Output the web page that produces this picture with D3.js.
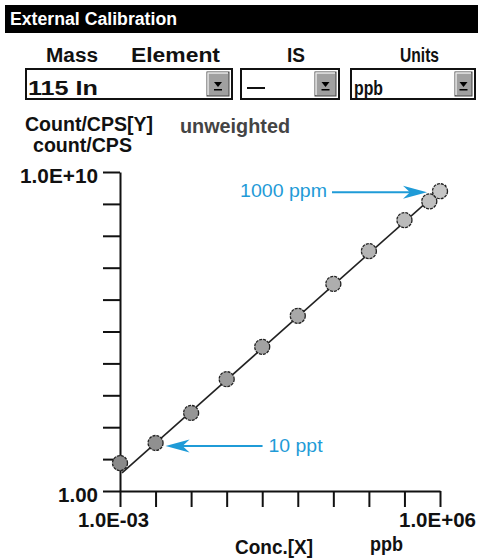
<!DOCTYPE html>
<html><head><meta charset="utf-8">
<script src="https://cdn.jsdelivr.net/npm/d3@7"></script>
<style>
html,body{margin:0;padding:0;background:#fff;}
svg{display:block;}
text{font-family:"Liberation Sans",Arial,sans-serif;font-weight:bold;}
</style></head>
<body><svg id="c" width="478" height="559"></svg>
<script>
// ---- data ----
const concPpb   = [1e-3, 1e-2, 1e-1, 1, 10, 100, 1e3, 1e4, 1e5, 5e5, 1e6];
const countsCps = [7.5, 32, 280, 3200, 3.3e4, 3.1e5, 3.1e6, 3.3e7, 3.1e8, 1.2e9, 2.5e9];
const fitConc   = [1.14e-3, 1.47e6];
const fitCounts = [3.7, 3.9e9];
const xTickValues = [1e-3, 1e-2, 1e-1, 1, 10, 100, 1e3, 1e4, 1e5, 1e6];
const yTickValues = [1, 10, 100, 1e3, 1e4, 1e5, 1e6, 1e7, 1e8, 1e9, 1e10];
const xLabelValues = [1e-3, 1e6];
const xLabelTexts  = ["1.0E-03", "1.0E+06"];
const yLabelValues = [1, 1e10];
const yLabelTexts  = ["1.00", "1.0E+10"];
const headerTitle = "External Calibration";
const fieldLabels = ["Mass", "Element", "IS", "Units"];
const fieldValues = ["115 In", "—", "ppb"];
const annoTexts = ["1000 ppm", "10 ppt"];
const annoIndex = [10, 1];

const svg = d3.select("#c");
const x = d3.scaleLog().domain([1e-3, 1e6]).range([120, 440]);
const y = d3.scaleLog().domain([1, 1e10]).range([491, 172]);
const FS = 20;

function fitText(sel, w){ sel.attr("textLength", w).attr("lengthAdjust", "spacingAndGlyphs"); }

// header bar
svg.append("rect").attr("x",5).attr("y",5).attr("width",473).attr("height",28).attr("fill","#000");
svg.append("text").attr("x",10).attr("y",25).attr("fill","#fff").attr("font-size",18)
  .text(headerTitle).call(fitText,167);

// field labels
const lblPos = [[46,52],[131,89],[287,18],[400,39]];
fieldLabels.forEach((t,i)=>{
  svg.append("text").attr("x",lblPos[i][0]).attr("y",62).attr("font-size",FS).attr("fill","#111")
    .text(t).call(fitText,lblPos[i][1]);
});

// dropdown boxes
const boxes = [[25,233,207,28,70],[240,340,315,247,18],[350,476,455,354,29]];
boxes.forEach((b,i)=>{
  const [x0,x1,bx,tx,tw] = b;
  svg.append("rect").attr("x",x0+1).attr("y",69).attr("width",x1-x0-2).attr("height",30)
    .attr("fill","#fff").attr("stroke","#111").attr("stroke-width",2);
  svg.append("rect").attr("x",bx).attr("y",72).attr("width",x1-bx-4).attr("height",24)
    .attr("fill","#a0a0a0").attr("stroke","#444").attr("stroke-width",1);
  svg.append("path").attr("d",`M${bx+1},95 V73 H${x1-5}`).attr("stroke","#e8e8e8").attr("fill","none").attr("stroke-width",1.5);
  const cx = (bx + x1 - 4)/2;
  svg.append("path").attr("d",`M${cx-4},82 H${cx+4} L${cx},87 Z`).attr("fill","#000");
  svg.append("rect").attr("x",cx-4).attr("y",89).attr("width",8).attr("height",1.5).attr("fill","#000");
  if (fieldValues[i] === "—") {
    svg.append("rect").attr("x",tx).attr("y",87).attr("width",tw).attr("height",2).attr("fill","#111");
  } else {
    svg.append("text").attr("x",tx).attr("y",95).attr("font-size",FS).attr("fill","#111")
      .text(fieldValues[i]).call(fitText,tw);
  }
});

// y title texts
svg.append("text").attr("x",25).attr("y",131).attr("font-size",FS).attr("fill","#111").text("Count/CPS[Y]").call(fitText,128);
svg.append("text").attr("x",33).attr("y",152).attr("font-size",FS).attr("fill","#111").text("count/CPS").call(fitText,99);
svg.append("text").attr("x",180).attr("y",133).attr("font-size",FS).attr("fill","#444").text("unweighted").call(fitText,110);

// axes
const yAxis = d3.axisLeft(y).tickValues(yTickValues).tickSize(17).tickSizeOuter(0)
  .tickFormat(d => { const k = yLabelValues.indexOf(d); return k >= 0 ? yLabelTexts[k] : ""; });
const gy = svg.append("g").attr("transform","translate(120,0)").call(yAxis);
const xAxis = d3.axisBottom(x).tickValues(xTickValues).tickSize(16).tickSizeOuter(0)
  .tickFormat(d => { const k = xLabelValues.indexOf(d); return k >= 0 ? xLabelTexts[k] : ""; });
const gx = svg.append("g").attr("transform","translate(0,491)").call(xAxis);
[gx, gy].forEach(g=>{
  g.select(".domain").attr("stroke","#111").attr("stroke-width",2);
  g.selectAll(".tick line").attr("stroke","#111").attr("stroke-width",2);
  g.selectAll(".tick text").attr("fill","#111").attr("font-size",FS)
    .style("font-family","'Liberation Sans',Arial,sans-serif").style("font-weight","bold");
});
gy.selectAll(".tick text").attr("x",-22).attr("dy","0.5em")
  .each(function(d){ const k = yLabelValues.indexOf(d); if (k>=0) d3.select(this).attr("textLength", k===0?40:78).attr("lengthAdjust","spacingAndGlyphs"); });
gx.selectAll(".tick text").attr("y",22).attr("dy","0.71em")
  .each(function(d){ const k = xLabelValues.indexOf(d);
    if (k>=0) d3.select(this).attr("textLength", k===0?71:77).attr("lengthAdjust","spacingAndGlyphs")
      .attr("x", k===0 ? -7 : -3); });

// x title
svg.append("text").attr("x",235).attr("y",554).attr("font-size",FS).attr("fill","#111").text("Conc.[X]").call(fitText,78);
svg.append("text").attr("x",370).attr("y",551).attr("font-size",FS).attr("fill","#111").text("ppb").call(fitText,33);

// fit line
const line = d3.line().x(d=>x(d[0])).y(d=>y(d[1]));
svg.append("path").datum(d3.zip(fitConc, fitCounts)).attr("d", line)
  .attr("fill","none").attr("stroke","#222").attr("stroke-width",1.6);

// points
const pts = d3.zip(concPpb, countsCps);
const shade = d3.scaleLinear().domain([0, pts.length-1]).range(["#8a8a8a","#c6c6c6"]);
svg.append("g").selectAll("circle").data(pts).join("circle")
  .attr("cx", d=>x(d[0])).attr("cy", d=>y(d[1])).attr("r", 7.5)
  .attr("fill", (d,i)=>shade(i)).attr("stroke","#222").attr("stroke-width",1.3)
  .attr("stroke-dasharray","3,1");

// annotations
const blue = "#1f9bd7";
function arrow(tipX, tipY, tailX){
  const dir = tailX > tipX ? 1 : -1;
  svg.append("line").attr("x1",tailX).attr("y1",tipY).attr("x2",tipX + dir*10).attr("y2",tipY)
    .attr("stroke",blue).attr("stroke-width",2);
  const L = 24, H = 6.5, N = 17;
  svg.append("path").attr("d",
    `M${tipX},${tipY} L${tipX+dir*L},${tipY-H} L${tipX+dir*N},${tipY} L${tipX+dir*L},${tipY+H} Z`)
    .attr("fill",blue);
}
{
  const p = pts[annoIndex[0]];
  const tx = x(p[0]) - 13, ty = y(p[1]) + 1;
  arrow(tx, ty, tx - 95);
  svg.append("text").attr("x", tx - 187).attr("y", ty + 5).attr("font-size",19).attr("fill",blue)
    .style("font-weight","normal").text(annoTexts[0]).call(fitText,87);
}
{
  const p = pts[annoIndex[1]];
  const tx = x(p[0]) + 10, ty = y(p[1]) + 3;
  arrow(tx, ty, tx + 97);
  svg.append("text").attr("x", tx + 103).attr("y", ty + 6).attr("font-size",19).attr("fill",blue)
    .style("font-weight","normal").text(annoTexts[1]).call(fitText,54);
}
</script></body></html>
